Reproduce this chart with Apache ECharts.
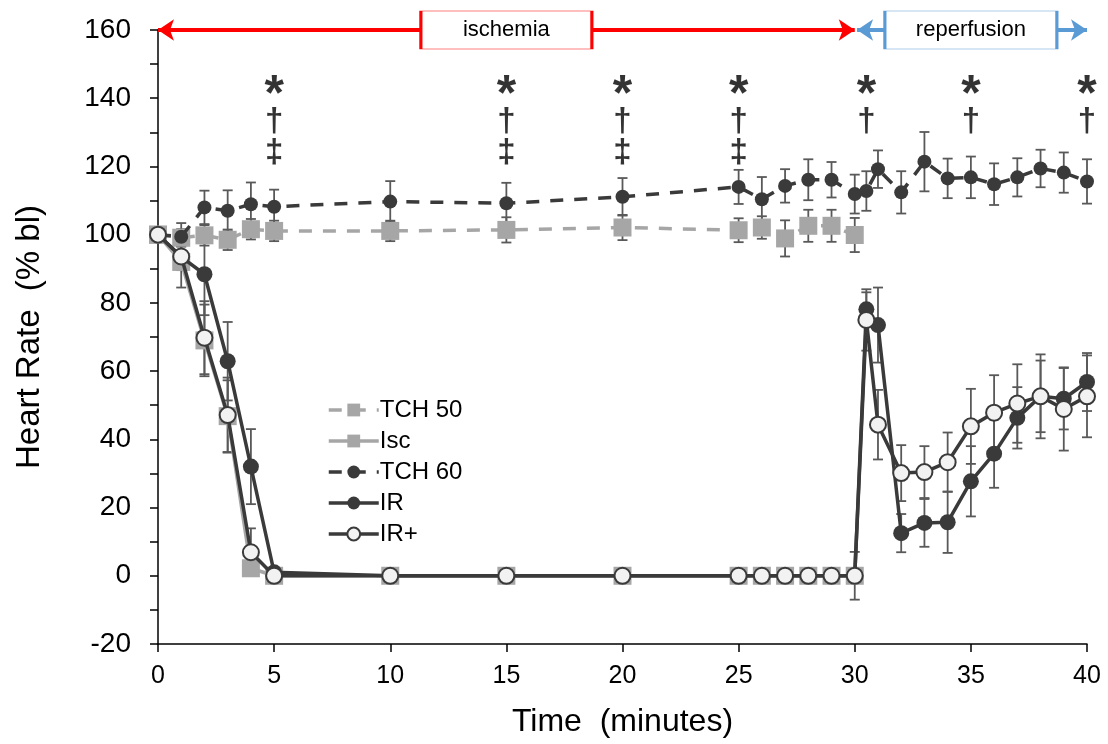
<!DOCTYPE html>
<html>
<head>
<meta charset="utf-8">
<script src="https://cdn.jsdelivr.net/npm/echarts@6/dist/echarts.min.js"></script>
<style>html,body{margin:0;padding:0;background:#fff}#c{width:1108px;height:744px}</style>
</head>
<body>
<div id="c"></div>
<script>
// ---- data ----
const timeIsch = [0,1,2,3,4,5,10,15,20,25,26,27,28,29,30];
const timeAll = [0,1,2,3,4,5,10,15,20,25,26,27,28,29,30,30.5,31,32,33,34,35,36,37,38,39,40];

const tch50    = [100,99.1,99.8,98.5,101.6,101.1,101.1,101.4,102.1,101.3,102.1,98.9,102.6,102.6,99.9];
const tch50Err = [0,2.5,3,3,3,3,3,3.7,3.7,3.5,3.3,5.3,4.7,4.7,5];
const isc      = [100,92,69,46.8,2.2,0,0,0,0,0,0,0,0,0,0];
const iscErr   = [0,7.5,10.5,10.5,2,0,0,0,0,0,0,0,0,0,7];
const tch60    = [100,99.4,108,107,108.9,108.2,109.7,109.2,111.1,114,110.4,114.3,116.1,116.1,111.9,112.8,119.2,112.4,121.4,116.5,116.8,114.8,116.8,119.4,118.2,115.6];
const tch60Err = [0,4,4.9,6,6.4,5,6,6,5.5,5,6.5,4.9,6,5.2,5.7,5.8,5.5,6.2,8.7,5.8,6.1,6.1,5.6,5.5,5.9,6.5];
const ir       = [100,93.5,88.4,62.9,32,1,0,0,0,0,0,0,0,0,0,78.1,73.5,12.5,15.5,15.7,27.7,35.8,46.3,52.6,51.9,56.8];
const irErr    = [0,3,12,11.5,11,1,0,0,0,0,0,0,0,0,0,5,11,5.6,7,9,10.3,10,9,10.5,9,8.5];
const irPlus   = [100,93.6,69.8,47.1,6.9,0,0,0,0,0,0,0,0,0,0,75,44.3,30.1,30.4,33.3,43.8,47.8,50.5,52.6,48.9,52.6];
const irPlusErr= [0,4,10.7,11,7,0,0,0,0,0,0,0,0,0,0,9,10.2,8.2,7.6,8.7,11,11,11.5,12.3,12.2,12];

// significance markers
const sigTimes = [5,15,20,25,30.5,35,40];
const sigMarks = [['*','†','‡'],['*','†','‡'],['*','†','‡'],['*','†','‡'],['*','†'],['*','†'],['*','†']];
const sigLevels = {'*':140.5,'†':133.2,'‡':124};

// phases
const phases = [
  {name:'ischemia', start:0, end:30, center:15, color:'#FF0000'},
  {name:'reperfusion', start:30.1, end:40, center:35, color:'#5B9BD5'}
];

const yTicks = {min:-20, max:160, step:10};
const xTicks = {min:0, max:40, step:5};

// ---- build ----
const pairs = (xs, ys) => xs.map((x,i)=>[x, ys[i]]);
const errs = (xs, ys, es) => xs.map((x,i)=>[x, ys[i]-es[i], ys[i]+es[i]]).filter((d,i)=>es[i]>0);

const errColor = '#595959';
function errSeries(data){
  return {
    type:'custom', data, z:1, clip:false, silent:true,
    renderItem(params, api){
      const x = api.value(0);
      const p1 = api.coord([x, api.value(1)]);
      const p2 = api.coord([x, api.value(2)]);
      const c = 5;
      const st = {stroke:errColor, lineWidth:1.8};
      return {type:'group', children:[
        {type:'line', shape:{x1:p1[0],y1:p1[1],x2:p2[0],y2:p2[1]}, style:st},
        {type:'line', shape:{x1:p1[0]-c,y1:p1[1],x2:p1[0]+c,y2:p1[1]}, style:st},
        {type:'line', shape:{x1:p2[0]-c,y1:p2[1],x2:p2[0]+c,y2:p2[1]}, style:st}
      ]};
    }
  };
}

const gray = '#A6A6A6', dark = '#3A3A3A';
const sigData = [];
sigTimes.forEach((t,i)=>sigMarks[i].forEach(m=>sigData.push({value:[t, sigLevels[m], m],
  label:{fontSize: m==='*' ? 50 : 33}})));

const option = {
  animation:false,
  backgroundColor:'#fff',
  grid:{left:158, right:21, top:30, bottom:100, containLabel:false, outerBoundsMode:'none'},
  legend:{
    orient:'vertical', left:322, top:393, itemWidth:50, itemHeight:16, itemGap:7,
    lineStyle:{width:3.5},
    textStyle:{fontFamily:'Liberation Sans', fontSize:24, color:'#000', padding:[0,0,0,-4]},
    data:['TCH 50','Isc','TCH 60','IR','IR+']
  },
  xAxis:{
    type:'value', min:xTicks.min, max:xTicks.max, interval:xTicks.step,
    name:'Time  (minutes)', nameLocation:'middle', nameGap:62,
    nameTextStyle:{fontFamily:'Liberation Sans', fontSize:32, color:'#000'},
    axisLine:{onZero:false, lineStyle:{color:'#000', width:1.5}},
    axisTick:{show:true, inside:false, length:8, lineStyle:{color:'#000', width:1.5}},
    axisLabel:{fontFamily:'Liberation Sans', fontSize:25, color:'#000', margin:20},
    splitLine:{show:false}
  },
  yAxis:{
    type:'value', min:yTicks.min, max:yTicks.max, interval:yTicks.step,
    name:'Heart Rate  (% bl)', nameLocation:'middle', nameGap:112,
    nameTextStyle:{fontFamily:'Liberation Sans', fontSize:33, color:'#000'},
    axisLine:{show:true, lineStyle:{color:'#000', width:1.5}},
    axisTick:{show:true, inside:false, length:8, lineStyle:{color:'#000', width:1.5}},
    axisLabel:{fontFamily:'Liberation Sans', fontSize:28, color:'#000', margin:27,
      formatter:v=> (v % 20 === 0 ? String(v) : '')},
    splitLine:{show:false}
  },
  series:[
    errSeries(errs(timeIsch, tch50, tch50Err)),
    errSeries(errs(timeIsch, isc, iscErr)),
    errSeries(errs(timeAll, tch60, tch60Err)),
    errSeries(errs(timeAll, ir, irErr)),
    errSeries(errs(timeAll, irPlus, irPlusErr)),
    {name:'TCH 50', type:'line', data:pairs(timeIsch, tch50), z:2, clip:false,
      symbol:'rect', symbolSize:18, itemStyle:{color:gray},
      lineStyle:{color:gray, width:3.5, type:[13,11]}},
    {name:'Isc', type:'line', data:pairs(timeIsch, isc), z:3, clip:false,
      symbol:'rect', symbolSize:18, itemStyle:{color:gray},
      lineStyle:{color:gray, width:3.5}},
    {name:'TCH 60', type:'line', data:pairs(timeAll, tch60), z:4, clip:false,
      symbol:'circle', symbolSize:14, itemStyle:{color:dark},
      lineStyle:{color:dark, width:3.5, type:[13,11]}},
    {name:'IR', type:'line', data:pairs(timeAll, ir), z:5, clip:false,
      symbol:'circle', symbolSize:16, itemStyle:{color:dark},
      lineStyle:{color:dark, width:3.5}},
    {name:'IR+', type:'line', data:pairs(timeAll, irPlus), z:6, clip:false,
      symbol:'circle', symbolSize:16, itemStyle:{color:'#F2F2F2', borderColor:dark, borderWidth:2},
      lineStyle:{color:dark, width:3.5}},
    {type:'scatter', data:sigData, z:7, silent:true, symbolSize:1, itemStyle:{color:'rgba(0,0,0,0)'},
      label:{show:true, position:'inside', formatter:p=>p.value[2], color:'#000',
        fontFamily:'Liberation Sans', fontWeight:'bold', fontSize:28},
      markLine:{silent:true, symbol:['arrow','arrow'], symbolSize:[16,16], label:{show:false},
        data: phases.map(p=>[{coord:[p.start,160], lineStyle:{color:p.color, width:4, type:'solid'}, itemStyle:{color:p.color}},
                             {coord:[p.end,160]}])}
    },
    {type:'scatter', data:[], z:8, silent:true,
      markPoint:{silent:true, symbol:'rect',
        data: phases.map(p=>({coord:[p.center,160], value:p.name,
          symbolSize:[p.name==='ischemia'?171:172, 38],
          itemStyle:{color:'#fff', borderColor:p.color, borderWidth:1.5},
          label:{show:true, position:'inside', formatter:p.name, color:'#000', fontFamily:'Liberation Sans', fontSize:22}}))}
    }
  ]
};
const chart = echarts.init(document.getElementById('c'), null, {renderer:'canvas'});
chart.setOption(option);
</script>
</body>
</html>
